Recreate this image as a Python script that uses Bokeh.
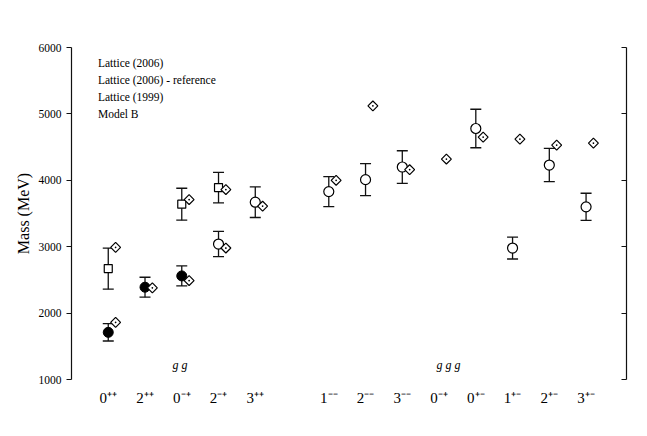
import math
from bokeh.plotting import figure
from bokeh.models import Range1d, LinearAxis, FixedTicker, Whisker, TeeHead, ColumnDataSource
from bokeh.core.properties import value
from bokeh.transform import dodge
from bokeh.embed import file_html
from bokeh.resources import INLINE

# ---- data -------------------------------------------------------------
slots = [1, 2, 3, 4, 5, 7, 8, 9, 10, 11, 12, 13, 14]
tick_labels = ["0⁺⁺", "2⁺⁺", "0⁻⁺", "2⁻⁺", "3⁺⁺", "1⁻⁻", "2⁻⁻", "3⁻⁻",
               "0⁻⁺", "0⁺⁻", "1⁺⁻", "2⁺⁻", "3⁺⁻"]

# Lattice (2006): filled circles
l06_slot = [1, 2, 3]
l06_mass = [1710, 2390, 2560]
l06_err = [130, 150, 150]

# Lattice (1999): open circles
l99_slot = [4, 5, 7, 8, 9, 11, 12, 13, 14]
l99_mass = [3040, 3670, 3830, 4010, 4200, 4780, 2980, 4230, 3600]
l99_err = [190, 230, 225, 240, 245, 290, 165, 250, 205]

# Lattice excited states: open squares
l99x_slot = [1, 3, 4]
l99x_mass = [2670, 3640, 3890]
l99x_err = [310, 240, 230]

# Model B: diamonds
mb_slot = [1, 1, 2, 3, 3, 4, 4, 5, 7, 8, 9, 10, 11, 12, 13, 14]
mb_mass = [1860, 2990, 2380, 2490, 3710, 2980, 3860, 3610, 4000, 5120,
           4160, 4320, 4650, 4620, 4530, 4560]

legend_names = ["Lattice (2006)", "Lattice (2006) - reference", "Lattice (1999)", "Model B"]
gluon_text = ["g g", "g g g"]
gluon_x = [2.75, 9.93]
gluon_y = [1225, 1225]

# ---- figure -----------------------------------------------------------
FONT = "Liberation Serif"
INK = "#111111"
p = figure(width=630, height=418, output_backend="svg", toolbar_location=None,
           x_range=Range1d(0, 15.1), y_range=Range1d(1000, 6000),
           min_border_left=71, min_border_right=4, min_border_top=47, min_border_bottom=39)
p.outline_line_color = None
p.xgrid.visible = False
p.ygrid.visible = False
p.background_fill_color = "white"
p.border_fill_color = "white"

# left axis
ya = p.yaxis[0]
ya.ticker = FixedTicker(ticks=[1000, 2000, 3000, 4000, 5000, 6000])
ya.axis_label = "Mass (MeV)"
ya.axis_label_text_font = FONT
ya.axis_label_text_font_style = "normal"
ya.axis_label_text_font_size = "16px"
ya.axis_label_text_color = "black"
ya.axis_label_standoff = 4
ya.major_label_text_font = FONT
ya.major_label_text_font_size = "11.5px"
ya.major_label_text_color = "black"
ya.major_label_standoff = 5
ya.major_tick_out = 5
ya.major_tick_in = 0
ya.minor_tick_line_color = None
ya.axis_line_color = INK
ya.axis_line_width = 1.2
ya.major_tick_line_color = INK
ya.major_tick_line_width = 1.2

# bottom axis: labels only
xa = p.xaxis[0]
xa.ticker = FixedTicker(ticks=slots)
xa.major_label_overrides = {s: t for s, t in zip(slots, tick_labels)}
xa.major_label_text_font = FONT
xa.major_label_text_font_size = "15px"
xa.major_label_text_color = "black"
xa.major_label_standoff = 4
xa.axis_line_color = None
xa.major_tick_line_color = None
xa.minor_tick_line_color = None

# right axis: inward ticks, no labels
ra = LinearAxis(ticker=FixedTicker(ticks=[1000, 2000, 3000, 4000, 5000, 6000]))
ra.major_label_overrides = {t: "" for t in [1000, 2000, 3000, 4000, 5000, 6000]}
ra.major_label_standoff = 0
ra.major_tick_in = 5
ra.major_tick_out = 0
ra.minor_tick_line_color = None
ra.axis_line_color = INK
ra.axis_line_width = 1.2
ra.major_tick_line_color = INK
ra.major_tick_line_width = 1.2
p.add_layout(ra, "right")

# ---- series -----------------------------------------------------------
def src(slot, mass, err=None):
    d = dict(x=slot, y=mass)
    if err is not None:
        d["lo"] = [m - e for m, e in zip(mass, err)]
        d["hi"] = [m + e for m, e in zip(mass, err)]
    return ColumnDataSource(d)

s06 = src(l06_slot, l06_mass, l06_err)
s99 = src(l99_slot, l99_mass, l99_err)
s99x = src(l99x_slot, l99x_mass, l99x_err)
smb = src(mb_slot, mb_mass)

for s in (s06, s99, s99x):
    w = Whisker(base="x", lower="lo", upper="hi", source=s,
                line_color=INK, line_width=1.3,
                upper_head=TeeHead(size=11, line_color=INK, line_width=1.3),
                lower_head=TeeHead(size=11, line_color=INK, line_width=1.3))
    p.add_layout(w)

p.scatter(x="x", y="y", source=s06, marker="circle", size=10,
          fill_color="black", line_color="black")
p.scatter(x="x", y="y", source=s99, marker="circle", size=10,
          fill_color="white", line_color="black", line_width=1.2)
p.scatter(x="x", y="y", source=s99x, marker="square", size=8,
          fill_color="white", line_color="black", line_width=1.2)
p.scatter(x=dodge("x", 0.2), y="y", source=smb, marker="square_dot", size=7,
          angle=math.pi / 4, fill_color="white", line_color="black", line_width=1.2)

# legend text (text only, as in the reference)
leg = ColumnDataSource(dict(x=[0.72] * len(legend_names),
                            y=[5760 - i * 255 for i in range(len(legend_names))],
                            t=legend_names))
p.text(x="x", y="y", text="t", source=leg, text_font=value(FONT),
       text_font_size="11.5px", text_baseline="middle", text_align="left", text_color="black")

# gluon content labels
gsrc = ColumnDataSource(dict(x=gluon_x, y=gluon_y, t=gluon_text))
p.text(x="x", y="y", text="t", source=gsrc, text_font=value(FONT), text_font_style="italic",
       text_font_size="12px", text_baseline="alphabetic", text_align="left", text_color="black")

open("out.html", "w").write(file_html(p, INLINE))
